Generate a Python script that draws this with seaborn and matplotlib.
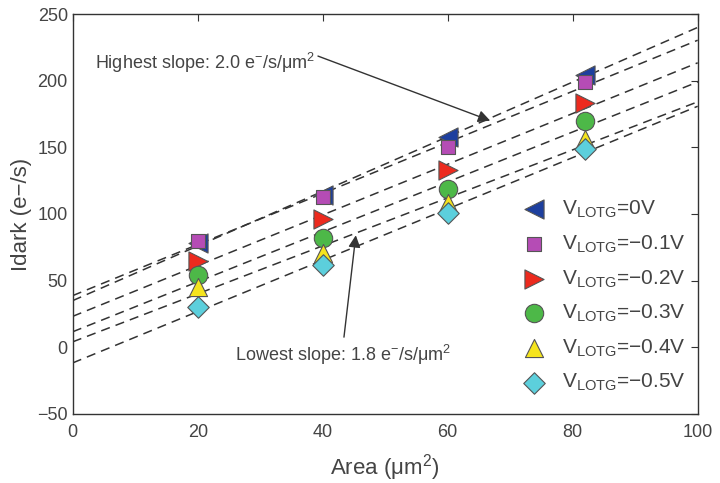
import numpy as np
import pandas as pd
import matplotlib
matplotlib.use("Agg")
import matplotlib.pyplot as plt
import seaborn as sns

area = [20, 40, 60, 82]
v0 = [78, 114, 158, 204]
v01 = [80, 113, 150, 199]
v02 = [65, 96, 133, 183]
v03 = [54, 82, 119, 170]
v04 = [45, 71, 108, 156]
v05 = [30, 62, 101, 149]
labels = ["0V", "\u22120.1V", "\u22120.2V", "\u22120.3V", "\u22120.4V", "\u22120.5V"]
series = [v0, v01, v02, v03, v04, v05]
colors = ["#1d3f9e", "#b54cb5", "#ec2a1e", "#4db848", "#f5e41e", "#5ccfdc"]
markers = ["<", "s", ">", "o", "^", "D"]
msizes = [190, 95, 190, 175, 170, 120]

sns.set_theme(style="white")
plt.rcParams["font.family"] = ["Liberation Sans", "DejaVu Sans"]
plt.rcParams["mathtext.fontset"] = "custom"
plt.rcParams["mathtext.rm"] = "Liberation Sans"
plt.rcParams["mathtext.it"] = "Liberation Sans:italic"

fig = plt.figure(figsize=(7.2, 4.83), dpi=100)
ax = fig.add_axes([0.101, 0.143, 0.868, 0.828])

xs = np.array([0, 100])
for vals in series:
    k, b = np.polyfit(area, vals, 1)
    ax.plot(xs, k * xs + b, color="#333333", lw=1.1, ls=(0, (6, 4)), zorder=1)

for vals, lab, c, m, s in zip(series, labels, colors, markers, msizes):
    df = pd.DataFrame({"Area": area, "Idark": vals})
    sns.scatterplot(data=df, x="Area", y="Idark", ax=ax, color=c, marker=m, s=s,
                    edgecolor="#555555", linewidth=0.8, zorder=3,
                    label=r"V$_{\mathrm{LOTG}}$=" + lab)

ax.set_xlim(0, 100)
ax.set_ylim(-50, 250)
ax.set_xticks([0, 20, 40, 60, 80, 100])
ax.set_yticks([-50, 0, 50, 100, 150, 200, 250])
ax.set_yticklabels(["\u221250", "0", "50", "100", "150", "200", "250"])
ax.tick_params(direction="in", length=5, width=0.8, colors="#333333", labelsize=13,
               top=True, right=True, labelcolor="#444444")
ax.tick_params(axis="x", pad=7)
for sp in ax.spines.values():
    sp.set_color("#333333")
    sp.set_linewidth(1.0)
ax.set_xlabel(r"Area ($\mathrm{\mu m^2}$)", fontsize=16, color="#444444", labelpad=8)
ax.set_ylabel("Idark (e\u2212/s)", fontsize=16, color="#444444")

leg = ax.legend(loc="lower right", frameon=False, fontsize=15, handletextpad=0.3,
                labelspacing=0.64, bbox_to_anchor=(1.0, 0.02), borderaxespad=0.2)
for t in leg.get_texts():
    t.set_color("#444444")

ax.annotate(r"Highest slope: 2.0 e$^{-}$/s/$\mathrm{\mu m^2}$", xy=(66.8, 170), xytext=(3.5, 204),
            fontsize=13, color="#444444", va="bottom",
            arrowprops=dict(arrowstyle="-|>", color="#333333", lw=1.0, mutation_scale=18,
                            shrinkA=0, shrinkB=0, relpos=(1.0, 0.85)))
ax.annotate(r"Lowest slope: 1.8 e$^{-}$/s/$\mathrm{\mu m^2}$", xy=(45.3, 84), xytext=(26, -15),
            fontsize=13, color="#444444", va="bottom",
            arrowprops=dict(arrowstyle="-|>", color="#333333", lw=1.0, mutation_scale=18,
                            shrinkA=2, shrinkB=0, relpos=(0.5, 1.0)))

fig.savefig("out.png", dpi=100)
